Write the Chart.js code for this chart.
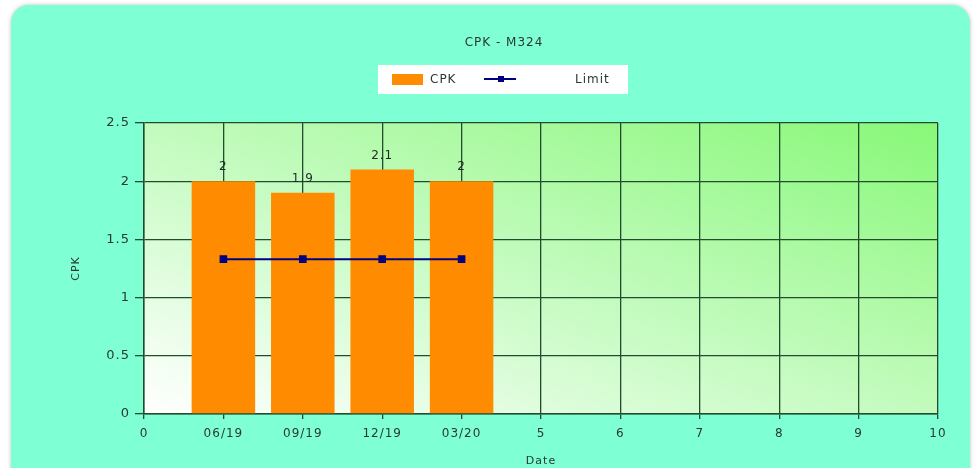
<!DOCTYPE html>
<html>
<head>
<meta charset="utf-8">
<script src="https://cdn.jsdelivr.net/npm/chart.js@4/dist/chart.umd.min.js"></script>
<style>
  html, body { margin: 0; padding: 0; background: #ffffff; }
  #wrap { width: 975px; height: 468px; position: relative; }
</style>
</head>
<body>
<div id="wrap"><canvas id="grafico"></canvas></div>
<script>
// datos del grafico
const posiciones = [1, 2, 3, 4];
const valoresCpk = [2, 1.9, 2.1, 2];
const valoresLimite = [1.33, 1.33, 1.33, 1.33];
const etiquetasX = ['0', '06/19', '09/19', '12/19', '03/20', '5', '6', '7', '8', '9', '10'];
const titulo = 'CPK - M324';
const etiquetaSerie = 'CPK';
const etiquetaLimite = 'Limit';

const fuente = '"DejaVu Sans", "Open Sans", sans-serif';
const colorRejilla = '#224c2e';
const colorTexto = '#2a3a30';

// el texto del original sale algo ensanchado
const espaciadoPlugin = {
    id: 'espaciado',
    beforeInit(chart) { chart.ctx.letterSpacing = '1px'; },
    beforeDraw(chart) { chart.ctx.letterSpacing = '1px'; }
};

// fondo: panel aquamarina y degradado diagonal del area de trazado
const fondoPlugin = {
    id: 'fondo',
    beforeDraw(chart) {
        const ctx = chart.ctx;
        const a = chart.chartArea;
        ctx.save();
        ctx.fillStyle = '#ffffff';
        ctx.fillRect(0, 0, chart.width, chart.height);
        ctx.shadowColor = 'rgba(0,0,0,0.25)';
        ctx.shadowBlur = 4;
        ctx.fillStyle = '#7fffd4';
        ctx.beginPath();
        ctx.roundRect(11, 5, 959, 490, 18);
        ctx.fill();
        ctx.shadowBlur = 0;

        // las esquinas sup-izq e inf-der quedan con el mismo color
        let w = a.right - a.left, h = a.bottom - a.top;
        let k = 2 * w * h / (w * w + h * h);
        let g = ctx.createLinearGradient(a.left, a.bottom, a.left + h * k, a.bottom - w * k);
        g.addColorStop(0, '#ffffff');
        g.addColorStop(0.5, '#c2fbbd');
        g.addColorStop(1, '#88f878');
        ctx.fillStyle = g;
        ctx.fillRect(a.left, a.top, w, h);

        // titulo
        ctx.fillStyle = colorTexto;
        ctx.font = '12px ' + fuente;
        ctx.textAlign = 'center';
        ctx.textBaseline = 'middle';
        ctx.fillText(titulo, 504, 43);

        // leyenda
        ctx.fillStyle = '#ffffff';
        ctx.fillRect(378, 65, 250, 29);
        ctx.fillStyle = '#ff8c00';
        ctx.fillRect(392, 74, 31, 11);
        ctx.fillStyle = colorTexto;
        ctx.textAlign = 'left';
        ctx.fillText(etiquetaSerie, 430, 80);
        ctx.strokeStyle = '#000080';
        ctx.lineWidth = 2;
        ctx.beginPath();
        ctx.moveTo(484, 79);
        ctx.lineTo(516, 79);
        ctx.stroke();
        ctx.fillStyle = '#000080';
        ctx.fillRect(498, 76, 6, 6);
        ctx.fillStyle = colorTexto;
        ctx.fillText(etiquetaLimite, 575, 80);
        ctx.restore();
    }
};

// etiquetas con el valor encima de cada barra
const valoresPlugin = {
    id: 'valores',
    afterDatasetsDraw(chart) {
        const ctx = chart.ctx;
        const meta = chart.getDatasetMeta(1);
        ctx.save();
        ctx.fillStyle = '#1e2a22';
        ctx.font = '12px ' + fuente;
        ctx.textAlign = 'center';
        ctx.textBaseline = 'middle';
        meta.data.forEach(function (barra, i) {
            ctx.fillText(String(valoresCpk[i]), barra.x, barra.y - 14);
        });
        ctx.restore();
    }
};

const ctx = document.getElementById('grafico');

var myChart = new Chart(ctx, {
    type: 'bar',
    data: {
        datasets: [
            {
                type: 'line',
                label: etiquetaLimite,
                data: posiciones.map((x, i) => ({ x: x, y: valoresLimite[i] })),
                borderColor: '#000080',
                backgroundColor: '#000080',
                borderWidth: 2,
                pointStyle: 'rect',
                pointRadius: 4,
                order: 0
            },
            {
                label: etiquetaSerie,
                data: posiciones.map((x, i) => ({ x: x, y: valoresCpk[i] })),
                backgroundColor: '#ff8c00',
                borderWidth: 0,
                categoryPercentage: 0.8,
                barPercentage: 1.0,
                order: 1
            }
        ]
    },
    options: {
        responsive: true,
        maintainAspectRatio: false,
        animation: false,
        layout: {
            padding: { left: 0, right: 37, top: 123, bottom: 0 }
        },
        scales: {
            x: {
                type: 'linear',
                min: 0,
                max: 10,
                offset: false,
                afterFit: function (scale) { scale.height = 54; },
                ticks: {
                    stepSize: 1,
                    autoSkip: false,
                    maxRotation: 0,
                    padding: 8,
                    color: colorTexto,
                    font: { family: fuente, size: 12 },
                    callback: function (v) { return etiquetasX[v]; }
                },
                grid: {
                    offset: false,
                    color: colorRejilla,
                    lineWidth: 1.3,
                    tickLength: 5,
                    tickColor: colorRejilla
                },
                border: { color: colorRejilla, width: 1.5 },
                title: {
                    display: true,
                    text: 'Date',
                    color: colorTexto,
                    font: { family: fuente, size: 11 },
                    padding: { top: 0, bottom: 0 }
                }
            },
            y: {
                min: 0,
                max: 2.5,
                afterFit: function (scale) { scale.width = 144; },
                ticks: {
                    stepSize: 0.5,
                    padding: 5,
                    color: colorTexto,
                    font: { family: fuente, size: 13 },
                    callback: function (v) { return String(Number(v.toFixed(2))); }
                },
                grid: {
                    color: colorRejilla,
                    lineWidth: 1.3,
                    tickLength: 9,
                    tickColor: colorRejilla
                },
                border: { color: colorRejilla, width: 1.5 },
                title: {
                    display: true,
                    text: 'CPK',
                    color: colorTexto,
                    font: { family: fuente, size: 11 },
                    padding: { top: 70, bottom: 0 }
                }
            }
        },
        plugins: {
            legend: { display: false },
            title: { display: false },
            tooltip: { enabled: false }
        }
    },
    plugins: [espaciadoPlugin, fondoPlugin, valoresPlugin]
});
</script>
</body>
</html>
